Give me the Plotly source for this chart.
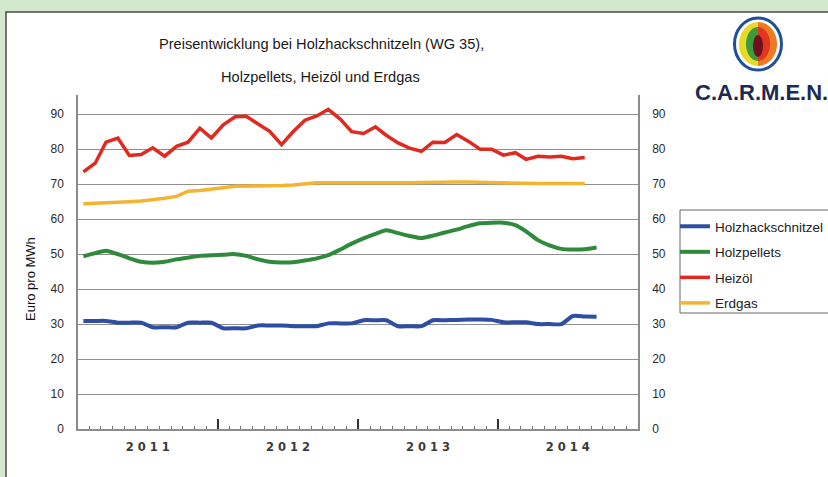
import numpy as np
import pandas as pd
import plotly.graph_objects as go

# ── Data (Euro pro MWh, monthly, from Jan 2011) ─────────────────────────────────

holzhackschnitzel = [
    30.9, 30.9, 30.9, 30.4, 30.4, 30.4, 29.1, 29.1, 29.1, 30.4, 30.4, 30.4,
    28.8, 28.8, 28.8, 29.6, 29.6, 29.6, 29.4, 29.4, 29.4, 30.2, 30.2, 30.2,
    31.1, 31.1, 31.1, 29.4, 29.4, 29.4, 31.1, 31.1, 31.2, 31.3, 31.3, 31.2,
    30.5, 30.5, 30.5, 30.0, 30.0, 30.0, 32.3, 32.2, 32.1,
]
holzpellets = [
    49.4, 50.3, 51.0, 50.0, 48.8, 47.8, 47.5, 47.8, 48.5, 49.0, 49.5, 49.7,
    49.8, 50.0, 49.5, 48.5, 47.8, 47.6, 47.7, 48.2, 48.8, 49.7, 51.3, 53.0,
    54.5, 55.8, 56.8, 56.0, 55.2, 54.6, 55.3, 56.2, 57.0, 58.0, 58.8, 59.0,
    59.0, 58.3, 56.5, 54.0, 52.5, 51.5, 51.3, 51.4, 51.9,
]
heizoel = [
    73.5, 76.0, 82.0, 83.2, 78.2, 78.5, 80.4, 78.0, 80.8, 82.0, 86.0, 83.2,
    87.0, 89.3, 89.4, 87.3, 85.1, 81.3, 85.0, 88.3, 89.5, 91.4, 88.6, 85.0,
    84.5, 86.4, 84.0, 81.8, 80.3, 79.4, 82.0, 81.9, 84.2, 82.3, 80.0, 80.0,
    78.3, 79.0, 77.1, 78.0, 77.8, 78.0, 77.3, 77.6,
]
erdgas = [
    64.4, 64.5, 64.6, 64.8, 65.0, 65.2, 65.5, 66.0, 66.5, 68.0, 68.2, 68.5,
    69.0, 69.4, 69.4, 69.4, 69.5, 69.6, 69.8, 70.2, 70.4, 70.4, 70.4, 70.3,
    70.2, 70.2, 70.2, 70.3, 70.4, 70.5, 70.6, 70.6, 70.6, 70.6, 70.5, 70.5,
    70.4, 70.3, 70.3, 70.2, 70.2, 70.2, 70.2, 70.2,
]

months = pd.date_range("2011-01-01", periods=45, freq="MS") + pd.Timedelta(days=14)

year_ticks = ["2012-01-01", "2013-01-01", "2014-01-01"]
year_label_pos = ["2011-07-02", "2012-07-02", "2013-07-02", "2014-07-02"]
year_labels = ["2 0 1 1", "2 0 1 2", "2 0 1 3", "2 0 1 4"]
y_ticks = [0, 10, 20, 30, 40, 50, 60, 70, 80, 90]

W, H = 828, 477
FONT = "Liberation Sans, Arial, sans-serif"
BG = "#d4e8cd"


def px(x):
    return x / W


def py(y):
    return 1 - y / H


# ── Figure ─────────────────────────────────────────────────────────────────────

fig = go.Figure()

series = [
    ("Holzhackschnitzel", holzhackschnitzel, "#2d4ea2", 4, "spline"),
    ("Holzpellets", holzpellets, "#2f8a3b", 4, "spline"),
    ("Heizöl", heizoel, "#e0291f", 3.5, "linear"),
    ("Erdgas", erdgas, "#f2b431", 3.5, "linear"),
]
for name, vals, color, width, shape in series:
    fig.add_trace(go.Scatter(
        x=months[:len(vals)],
        y=vals,
        mode="lines",
        name=name,
        legendgroup=name,
        line=dict(color=color, width=width, shape=shape, smoothing=0.6),
    ))

# invisible helper trace so the right axis and year label axis get drawn
fig.add_trace(go.Scatter(
    x=months[:1], y=[0], xaxis="x2", yaxis="y2",
    mode="markers", marker=dict(opacity=0), showlegend=False, hoverinfo="skip",
))

x_domain = [px(78), px(638)]
y_domain = [py(429), py(95)]
y_range = [0, 95.5]
x_range = ["2011-01-01", "2015-01-01"]

fig.update_layout(
    width=W,
    height=H,
    margin=dict(l=0, r=0, t=0, b=0, autoexpand=False),
    paper_bgcolor=BG,
    plot_bgcolor="white",
    font=dict(family=FONT, color="#222222", size=11),
    xaxis=dict(
        domain=x_domain,
        range=x_range,
        automargin=False,
        tickvals=year_ticks,
        ticks="inside",
        ticklen=10,
        tickwidth=1.5,
        tickcolor="#333333",
        showticklabels=False,
        showgrid=False,
        showline=True,
        linecolor="#8c8c8c",
        linewidth=1.5,
        minor=dict(dtick="M1", tick0="2011-01-01", ticks="inside", ticklen=3,
                   tickcolor="#777777", tickwidth=1, showgrid=False),
    ),
    xaxis2=dict(
        domain=x_domain,
        range=x_range,
        automargin=False,
        overlaying="x",
        anchor="y",
        side="bottom",
        tickvals=year_label_pos,
        ticktext=[f"<b>{t}</b>" for t in year_labels],
        ticks="",
        ticklabelstandoff=9,
        tickfont=dict(size=11.5, color="#3a3a3a", family="DejaVu Sans, sans-serif"),
        showgrid=False,
        showline=False,
        zeroline=False,
    ),
    yaxis=dict(
        domain=y_domain,
        range=y_range,
        automargin=False,
        tickvals=y_ticks,
        ticks="",
        ticklabelstandoff=10,
        tickfont=dict(size=12, color="#2a2a2a"),
        showgrid=True,
        gridcolor="#8f8f8f",
        gridwidth=1,
        zeroline=False,
        showline=True,
        linecolor="#8c8c8c",
        linewidth=1.5,
    ),
    yaxis2=dict(
        domain=y_domain,
        range=y_range,
        automargin=False,
        overlaying="y",
        anchor="x",
        side="right",
        tickvals=y_ticks,
        ticks="",
        ticklabelstandoff=10,
        tickfont=dict(size=12, color="#2a2a2a"),
        showgrid=False,
        zeroline=False,
        showline=True,
        linecolor="#8c8c8c",
        linewidth=1.5,
    ),
    legend=dict(
        x=px(675), y=py(211), xanchor="left", yanchor="top",
        bgcolor="rgba(0,0,0,0)", borderwidth=0,
        font=dict(size=13.5, color="#222222"),
        tracegroupgap=5,
    ),
    showlegend=True,
)

# ── Panel, legend box and logo (decoration) ────────────────────────────────────

shapes = [
    dict(type="rect", xref="paper", yref="paper", layer="below",
         x0=px(6), x1=px(840), y0=py(490), y1=py(12),
         fillcolor="white", line=dict(color="#4a4a4a", width=1.5)),
    dict(type="rect", xref="paper", yref="paper",
         x0=px(680), x1=px(840), y0=py(313), y1=py(210),
         fillcolor="rgba(0,0,0,0)", line=dict(color="#666666", width=1)),
]


def half_ellipse(cx, cy, rx, ry, side):
    t = np.linspace(-np.pi / 2, np.pi / 2, 30)
    xs = cx + side * rx * np.cos(t)
    ys = cy + ry * np.sin(t)
    pts = " L ".join(f"{px(a):.5f},{py(b):.5f}" for a, b in zip(xs, ys))
    return "M " + pts + " Z"


def ellipse(cx, cy, rx, ry, fill, line_color=None, lw=0):
    return dict(type="circle", xref="paper", yref="paper",
                x0=px(cx - rx), x1=px(cx + rx), y0=py(cy + ry), y1=py(cy - ry),
                fillcolor=fill, line=dict(color=line_color or fill, width=lw))


cx, cy = 758, 44
shapes += [
    ellipse(cx, cy, 23.5, 26, "white", "#1f4e9e", 3),
    dict(type="path", xref="paper", yref="paper", path=half_ellipse(cx, cy, 19, 22, -1),
         fillcolor="#e8d92a", line=dict(width=0)),
    dict(type="path", xref="paper", yref="paper", path=half_ellipse(cx, cy, 19, 22, 1),
         fillcolor="#f07a22", line=dict(width=0)),
    dict(type="path", xref="paper", yref="paper", path=half_ellipse(cx, cy, 12, 17, -1),
         fillcolor="#3a9c3a", line=dict(width=0)),
    dict(type="path", xref="paper", yref="paper", path=half_ellipse(cx, cy, 12, 17, 1),
         fillcolor="#e2361e", line=dict(width=0)),
    ellipse(cx, cy + 2, 5, 11, "#6e1020"),
]
fig.update_layout(shapes=shapes)

annotations = [
    dict(text="Preisentwicklung bei Holzhackschnitzeln (WG 35),",
         x=px(321), y=py(44), xref="paper", yref="paper", showarrow=False,
         yanchor="middle", font=dict(size=14.6, color="#1a1a1a")),
    dict(text="Holzpellets, Heizöl und Erdgas",
         x=px(320), y=py(77), xref="paper", yref="paper", showarrow=False,
         yanchor="middle", font=dict(size=14.6, color="#1a1a1a")),
    dict(text="Euro pro MWh", textangle=-90,
         x=px(30), y=py(279), xref="paper", yref="paper", showarrow=False,
         xanchor="center", yanchor="middle", font=dict(size=13, color="#111111")),
    dict(text="<b>C.A.R.M.E.N.</b>",
         x=px(693), y=py(93), xref="paper", yref="paper", showarrow=False,
         xanchor="left", yanchor="middle", font=dict(size=22, color="#1c2b4f")),
]
fig.update_layout(annotations=annotations)

# page body has a default 8px margin; remove it so the chart sits at 0,0
fig.write_html(
    "out.html",
    config={"displayModeBar": False},
    post_script=f"document.body.style.margin='0';document.body.style.background='{BG}';",
)
